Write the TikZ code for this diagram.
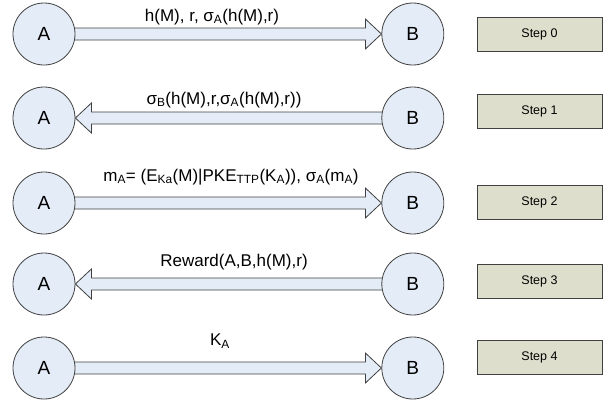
\documentclass[tikz,border=0pt]{standalone}
\usepackage{fontspec}
\setmainfont{Liberation Sans}
\usepackage{tikz}
\usetikzlibrary{positioning,calc,backgrounds}
\definecolor{partyblue}{RGB}{228,236,247}
\definecolor{stepbeige}{RGB}{221,223,204}
\definecolor{edgegray} {RGB}{64,64,64}
\tikzset{
  party/.style  ={circle, draw=edgegray, fill=partyblue, line width=0.8pt,
                  minimum size=62pt, inner sep=0pt,
                  font=\fontsize{19}{21}\selectfont},
  stepbox/.style={draw=edgegray, fill=stepbeige, line width=0.8pt,
                  minimum width=125pt, minimum height=34pt, inner sep=0pt,
                  font=\fontsize{12.5}{14}\selectfont},
  msg/.style    ={inner sep=0pt, font=\fontsize{17}{20}\selectfont},
  fatarr/.style ={draw=edgegray, fill=partyblue, line width=0.8pt,
                  line join=miter},
}
% block arrow: tail anchor, tip anchor, +1 = to the right, -1 = to the left
\newcommand{\fatarrow}[3]{%
  \draw[fatarr] ($(#1)+({-3*#3},6)$) -- ($(#2)+({-16*#3},6)$)
    -- ($(#2)+({-16*#3},15)$) -- (#2) -- ($(#2)+({-16*#3},-15)$)
    -- ($(#2)+({-16*#3},-6)$) -- ($(#1)+({-3*#3},-6)$) -- cycle;}

\begin{document}
\begin{tikzpicture}[x=1pt, y=-1pt, node distance=306pt]
  \useasboundingbox (0,0) rectangle (613,408);

  \node[party] (a0) at (44,34)  {A};
  \node[party] (a1) at (44,118) {A};
  \node[party] (a2) at (44,203) {A};
  \node[party] (a3) at (44,284) {A};
  \node[party] (a4) at (44,368) {A};
  \node[party, right=of a0] (b0) {B};
  \node[party, right=of a1] (b1) {B};
  \node[party, right=of a2] (b2) {B};
  \node[party, right=of a3] (b3) {B};
  \node[party, right=of a4] (b4) {B};

  \node[stepbox] (s0) at (539.5,34)  {Step 0};
  \node[stepbox] (s1) at (539.5,111) {Step 1};
  \node[stepbox] (s2) at (539.5,202) {Step 2};
  \node[stepbox] (s3) at (539.5,281) {Step 3};
  \node[stepbox] (s4) at (539.5,357) {Step 4};

  \node[msg] (l0) at (212,17)
        {h(M), r, σ\textsubscript{A}(h(M),r)};
  \node[msg] (l1) at (224,100)
        {σ\textsubscript{B}(h(M),r,σ\textsubscript{A}(h(M),r))};
  \node[msg] (l2) at (231,177)
        {m\textsubscript{A}= (E\textsubscript{Ka}(M)|PKE\textsubscript{TTP}(K\textsubscript{A})),
         σ\textsubscript{A}(m\textsubscript{A})};
  \node[msg] (l3) at (234,262) {Reward(A,B,h(M),r)};
  \node[msg] (l4) at (220,341) {K\textsubscript{A}};

  \begin{scope}[on background layer]
    \fatarrow{a0.east}{b0.west}{1}
    \fatarrow{b1.west}{a1.east}{-1}
    \fatarrow{a2.east}{b2.west}{1}
    \fatarrow{b3.west}{a3.east}{-1}
    \fatarrow{a4.east}{b4.west}{1}
  \end{scope}
\end{tikzpicture}
\end{document}
